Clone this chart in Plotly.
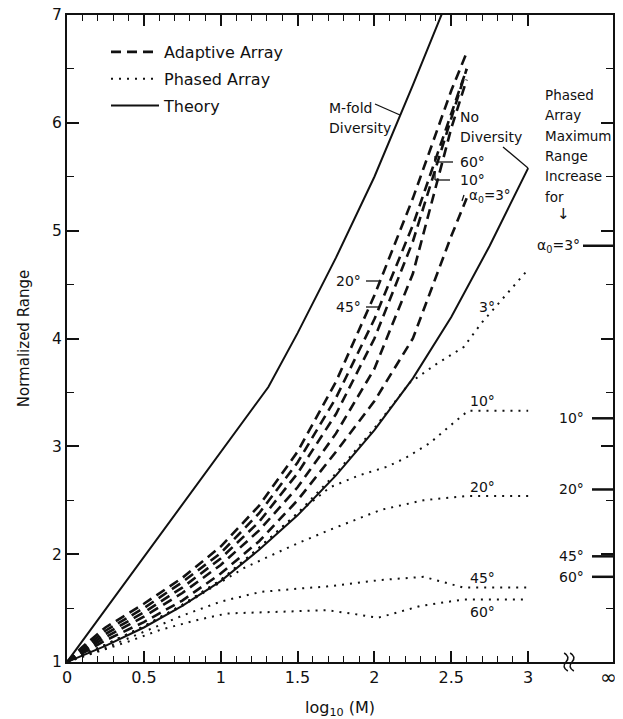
import plotly.graph_objects as go

# ---------------- data ----------------
theory_x = [0, 0.25, 0.5, 0.75, 1.0, 1.25, 1.5, 1.75, 2.0, 2.25, 2.5, 2.75, 3.0]
theory_no_diversity = [1, 1.15, 1.32, 1.52, 1.75, 2.04, 2.36, 2.73, 3.15, 3.63, 4.2, 4.86, 5.58]

mfold_x = [0, 1.31, 1.5, 1.75, 2.0, 2.25, 2.45]
mfold_diversity = [1, 3.55, 4.05, 4.75, 5.5, 6.35, 7.05]

adaptive_x = [0, 0.1, 0.25, 0.5, 0.75, 1.0, 1.25, 1.5, 1.75, 2.0, 2.25, 2.5, 2.6]
adaptive_20 = [1, 1.14, 1.32, 1.54, 1.78, 2.07, 2.45, 2.95, 3.6, 4.4, 5.3, 6.3, 6.65]
adaptive_45 = [1, 1.12, 1.29, 1.5, 1.74, 2.01, 2.38, 2.85, 3.45, 4.18, 5.05, 6.1, 6.5]
adaptive_60 = [1, 1.1, 1.26, 1.46, 1.69, 1.96, 2.3, 2.75, 3.3, 4.0, 4.9, 6.05, 6.5]
adaptive_10 = [1, 1.09, 1.23, 1.42, 1.64, 1.9, 2.22, 2.62, 3.12, 3.72, 4.6, 5.95, 6.4]
adaptive_3 = [1, 1.08, 1.2, 1.37, 1.57, 1.82, 2.12, 2.5, 2.95, 3.42, 4.0, 4.95, 5.3]

phased_3_x = [0, 0.25, 0.5, 0.75, 1.0, 1.25, 1.5, 1.75, 2.0, 2.23, 2.4, 2.58, 2.7, 2.85, 3.0]
phased_3 = [1, 1.16, 1.33, 1.53, 1.76, 2.06, 2.38, 2.75, 3.17, 3.59, 3.76, 3.92, 4.15, 4.4, 4.64]

phased_10_x = [0, 0.25, 0.5, 0.75, 1.0, 1.25, 1.5, 1.71, 1.9, 2.08, 2.2, 2.36, 2.5, 2.61, 2.8, 3.0]
phased_10 = [1, 1.16, 1.33, 1.53, 1.76, 2.06, 2.38, 2.62, 2.73, 2.81, 2.89, 3.03, 3.2, 3.33, 3.33, 3.33]

phased_20_x = [0, 0.25, 0.5, 0.75, 1.0, 1.15, 1.3, 1.5, 1.7, 1.9, 2.04, 2.32, 2.6, 3.0]
phased_20 = [1, 1.16, 1.33, 1.52, 1.74, 1.87, 1.97, 2.1, 2.22, 2.33, 2.41, 2.5, 2.54, 2.54]

phased_45_x = [0, 0.25, 0.5, 0.75, 1.0, 1.26, 1.5, 1.69, 2.04, 2.32, 2.45, 2.58, 3.0]
phased_45 = [1, 1.13, 1.28, 1.43, 1.56, 1.65, 1.68, 1.7, 1.76, 1.79, 1.74, 1.69, 1.69]

phased_60_x = [0, 0.17, 0.4, 0.61, 0.85, 1.04, 1.26, 1.69, 1.85, 2.02, 2.1, 2.3, 2.58, 3.0]
phased_60 = [1, 1.08, 1.19, 1.3, 1.39, 1.45, 1.46, 1.48, 1.45, 1.41, 1.44, 1.52, 1.58, 1.58]

# phased array maximum range increase (right-hand markers)
max_labels = ["α<sub>0</sub>=3°", "10°", "20°", "45°", "60°"]
max_values = [4.86, 3.26, 2.60, 1.98, 1.79]

x_tick_vals = [0, 0.5, 1, 1.5, 2, 2.5, 3]
x_tick_text = ["0", "0.5", "1", "1.5", "2", "2.5", "3"]
y_tick_vals = [1, 2, 3, 4, 5, 6, 7]

# ---------------- geometry (page pixels; the page body has an 8px margin) ----------------
PAGE_OFF = 8
W, H = 623 - PAGE_OFF, 719 - PAGE_OFF
L, R, T, B = 67, 613, 15, 662          # plot area in page pixels
X_MAX = 3.552
Y_MIN, Y_MAX = 1, 7


def X(px):
    return (px - L) / (R - L) * X_MAX


def Y(py):
    return Y_MIN + (B - py) / (B - T) * (Y_MAX - Y_MIN)


INK = "#111111"
FONT = "DejaVu Sans, Liberation Sans, Arial"
DASH = "10px,6px"
DOT = "2px,6px"

fig = go.Figure()

# theory
fig.add_trace(go.Scatter(x=theory_x, y=theory_no_diversity, mode="lines",
                         line=dict(color=INK, width=2), name="Theory",
                         legendgroup="t", legendrank=3))
fig.add_trace(go.Scatter(x=mfold_x, y=mfold_diversity, mode="lines",
                         line=dict(color=INK, width=2), name="Theory",
                         legendgroup="t", showlegend=False))

# adaptive
for i, ys in enumerate([adaptive_20, adaptive_45, adaptive_60, adaptive_10, adaptive_3]):
    fig.add_trace(go.Scatter(x=adaptive_x, y=ys, mode="lines",
                             line=dict(color=INK, width=2.6, dash=DASH),
                             name="Adaptive Array", legendgroup="a",
                             legendrank=1, showlegend=(i == 0)))

# phased
for i, (xs, ys) in enumerate([(phased_3_x, phased_3), (phased_10_x, phased_10),
                              (phased_20_x, phased_20), (phased_45_x, phased_45),
                              (phased_60_x, phased_60)]):
    fig.add_trace(go.Scatter(x=xs, y=ys, mode="lines",
                             line=dict(color=INK, width=2, dash=DOT),
                             name="Phased Array", legendgroup="p",
                             legendrank=2, showlegend=(i == 0)))

# right-hand maximum markers
x_mark0 = [X(583)] + [X(592)] * 4
for xm, v in zip(x_mark0, max_values):
    fig.add_trace(go.Scatter(x=[xm, X_MAX], y=[v, v], mode="lines",
                             line=dict(color=INK, width=2.5),
                             showlegend=False, hoverinfo="skip"))

ann = []
shapes = []


def text(px, py, s, size=14, xanchor="left"):
    ann.append(dict(x=X(px), y=Y(py), text=s, showarrow=False, xanchor=xanchor,
                    yanchor="middle", align="left",
                    font=dict(family=FONT, size=size, color=INK)))


def seg(p0, p1, width=1.3):
    shapes.append(dict(type="line", xref="x", yref="y", x0=X(p0[0]), y0=Y(p0[1]),
                       x1=X(p1[0]), y1=Y(p1[1]), line=dict(color=INK, width=width)))


# theory labels
text(327, 108, "M-fold")
text(327, 128, "Diversity")
seg((375, 104), (400, 115))
text(458, 117, "No")
text(458, 137, "Diversity")
seg((503, 147), (528, 168))

# adaptive labels
text(458, 162, "60°")
seg((453, 162), (435, 162))
seg((435, 162), (435, 156))
text(458, 180, "10°")
seg((450, 180), (435, 180))
seg((435, 180), (435, 171))
text(467, 196, "α<sub>0</sub>=3°", size=13.5)
seg((462, 201), (464, 195))
text(363, 281, "20°", xanchor="right")
seg((366, 281), (380, 281))
text(363, 307, "45°", xanchor="right")
seg((366, 307), (380, 307))

# phased labels
text(487, 307, "3°", xanchor="center")
text(482, 401, "10°", xanchor="center")
text(482, 487, "20°", xanchor="center")
text(482, 578, "45°", xanchor="center")
text(482, 612, "60°", xanchor="center")

# right block
for i, s in enumerate(["Phased", "Array", "Maximum", "Range", "Increase", "for"]):
    text(543, 95 + i * 20.3, s, size=13.5)
text(563, 214, "↓", xanchor="center", size=15)
for lbl, v in zip(max_labels, max_values):
    right_edge = 582 if lbl.startswith("α") else 586
    ann.append(dict(x=X(right_edge), y=v, text=lbl, showarrow=False, xanchor="right",
                    yanchor="middle", font=dict(family=FONT, size=14, color=INK)))

# infinity label at the right end of the x axis
ann.append(dict(x=X(608), y=(B - 677) / (B - T), xref="x", yref="paper", text="∞",
                showarrow=False, xanchor="center", yanchor="middle",
                font=dict(family="DejaVu Sans", size=20, color=INK)))

# axis break marks
for xb in [X(566), X(572)]:
    shapes.append(dict(type="path", xref="x", yref="paper",
                       path=f"M {xb + 0.012},-0.014 Q {xb - 0.03},-0.008 {xb},0 "
                            f"Q {xb + 0.03},0.008 {xb - 0.012},0.014",
                       line=dict(color=INK, width=1.6)))

fig.update_layout(
    width=W, height=H,
    margin=dict(l=L - PAGE_OFF, r=W + PAGE_OFF - R, t=T - PAGE_OFF, b=H + PAGE_OFF - B,
                autoexpand=False),
    paper_bgcolor="white", plot_bgcolor="white",
    font=dict(family=FONT, size=16, color=INK),
    showlegend=True,
    legend=dict(x=X(106) / X_MAX, y=(B - 35) / (B - T), xanchor="left", yanchor="top",
                bgcolor="rgba(0,0,0,0)", font=dict(size=16), tracegroupgap=3,
                itemwidth=48),
    annotations=ann, shapes=shapes,
    xaxis=dict(range=[0, X_MAX], tickmode="array", automargin=False,
               ticklabeloverflow="allow",
               tickvals=x_tick_vals, ticktext=x_tick_text,
               ticks="inside", ticklen=11, tickwidth=1.5, tickcolor=INK,
               minor=dict(tickmode="array",
                          tickvals=[round(k * 0.1, 2) for k in range(1, 30) if k % 5],
                          ticks="inside", ticklen=6, tickwidth=1.2, tickcolor=INK),
               showline=True, linewidth=2, linecolor=INK, mirror="ticks",
               showgrid=False, zeroline=False,
               title=dict(text="log<sub>10</sub> (M)", standoff=16, font=dict(size=16)),
               tickfont=dict(size=16)),
    yaxis=dict(range=[Y_MIN, Y_MAX], tickmode="array", tickvals=y_tick_vals,
               automargin=False, ticklabeloverflow="allow",
               ticks="inside", ticklen=12, tickwidth=1.5, tickcolor=INK,
               minor=dict(tickmode="array", tickvals=[1.5, 2.5, 3.5, 4.5, 5.5, 6.5],
                          ticks="inside", ticklen=7, tickwidth=1.2, tickcolor=INK),
               showline=True, linewidth=2, linecolor=INK, mirror="ticks",
               showgrid=False, zeroline=False,
               title=dict(text="Normalized Range", standoff=19, font=dict(size=15)),
               tickfont=dict(size=15.5)),
)

fig.write_html("out.html")
